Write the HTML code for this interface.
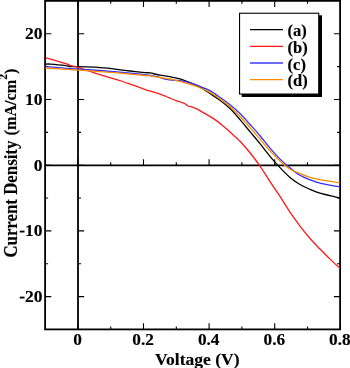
<!DOCTYPE html>
<html><head><meta charset="utf-8"><style>
html,body{margin:0;padding:0;background:#fff;overflow:hidden;}
svg{display:block;will-change:transform;}
text{font-family:"Liberation Serif",serif;font-weight:bold;fill:#000;stroke:#000;stroke-width:0.15px;}
</style></head><body>
<svg width="350" height="368" viewBox="0 0 350 368" xmlns="http://www.w3.org/2000/svg">
<rect x="0" y="0" width="350" height="368" fill="#fff"/>

<g stroke="#000" fill="none">
<path d="M77.90,329.4 V323.20 M77.90,0.85 V7.05 M77.90,165.35 V159.15 M110.70,329.4 V326.40 M110.70,0.85 V3.85 M110.70,165.35 V162.35 M143.50,329.4 V323.20 M143.50,0.85 V7.05 M143.50,165.35 V159.15 M176.30,329.4 V326.40 M176.30,0.85 V3.85 M176.30,165.35 V162.35 M209.10,329.4 V323.20 M209.10,0.85 V7.05 M209.10,165.35 V159.15 M241.90,329.4 V326.40 M241.90,0.85 V3.85 M241.90,165.35 V162.35 M274.70,329.4 V323.20 M274.70,0.85 V7.05 M274.70,165.35 V159.15 M307.50,329.4 V326.40 M307.50,0.85 V3.85 M307.50,165.35 V162.35 M340.30,329.4 V323.20 M340.30,0.85 V7.05 M340.30,165.35 V159.15 M45.1,296.60 H51.30 M340.1,296.60 H333.90 M78.0,296.60 H84.20 M45.1,263.75 H48.10 M340.1,263.75 H337.10 M78.0,263.75 H81.00 M45.1,230.90 H51.30 M340.1,230.90 H333.90 M78.0,230.90 H84.20 M45.1,198.05 H48.10 M340.1,198.05 H337.10 M78.0,198.05 H81.00 M45.1,165.20 H51.30 M340.1,165.20 H333.90 M78.0,165.20 H84.20 M45.1,132.35 H48.10 M340.1,132.35 H337.10 M78.0,132.35 H81.00 M45.1,99.50 H51.30 M340.1,99.50 H333.90 M78.0,99.50 H84.20 M45.1,66.65 H48.10 M340.1,66.65 H337.10 M78.0,66.65 H81.00 M45.1,33.80 H51.30 M340.1,33.80 H333.90 M78.0,33.80 H84.20" stroke-width="1.1"/>
<path d="M78.0,0.85 V329.4" stroke-width="1.8"/>
<path d="M45.1,165.35 H340.1" stroke-width="1.8"/>
<rect x="45.1" y="0.85" width="295.0" height="328.54999999999995" stroke-width="1.8"/>
</g>
<g fill="none" stroke-linejoin="round" stroke-linecap="butt">
<path d="M45.50,64.20 C46.25,64.17 47.25,63.90 50.00,64.05 C52.75,64.20 59.33,64.84 62.00,65.10 C64.67,65.36 64.67,65.37 66.00,65.60 C67.33,65.83 67.90,66.33 70.00,66.50 C72.10,66.67 74.45,66.48 78.60,66.60 C82.75,66.72 91.33,67.03 94.90,67.20 C98.47,67.38 97.48,67.46 100.00,67.65 C102.52,67.84 107.50,68.11 110.00,68.37 C112.50,68.62 111.67,68.76 115.00,69.20 C118.33,69.64 125.00,70.43 130.00,71.00 C135.00,71.56 141.67,72.26 145.00,72.59 C148.33,72.92 147.50,72.55 150.00,72.98 C152.50,73.40 156.67,74.52 160.00,75.14 C163.33,75.77 166.67,76.10 170.00,76.71 C173.33,77.32 176.67,77.82 180.00,78.82 C183.33,79.82 186.67,81.31 190.00,82.71 C193.33,84.10 196.67,85.38 200.00,87.19 C203.33,89.00 206.67,91.40 210.00,93.58 C213.33,95.77 216.67,97.82 220.00,100.32 C223.33,102.82 226.67,105.37 230.00,108.59 C233.33,111.81 236.67,115.78 240.00,119.62 C243.33,123.46 246.67,127.65 250.00,131.65 C253.33,135.65 256.67,139.54 260.00,143.65 C263.33,147.76 266.67,152.33 270.00,156.33 C273.33,160.33 276.67,164.13 280.00,167.65 C283.33,171.17 286.67,174.65 290.00,177.45 C293.33,180.25 296.67,182.47 300.00,184.45 C303.33,186.42 306.67,187.84 310.00,189.30 C313.33,190.76 315.83,191.95 320.00,193.22 C324.17,194.49 331.75,196.10 335.00,196.91 C338.25,197.73 338.75,197.90 339.50,198.10" stroke="#000" stroke-width="1.3"/>
<path d="M45.50,57.51 C48.92,58.53 61.92,62.32 66.00,63.63 C70.08,64.94 68.05,64.75 70.00,65.37 C71.95,65.99 75.20,66.66 77.70,67.36 C80.20,68.05 81.28,68.31 85.00,69.54 C88.72,70.76 94.17,72.86 100.00,74.70 C105.83,76.54 116.00,79.35 120.00,80.56 C124.00,81.78 120.00,80.59 124.00,82.00 C128.00,83.40 138.00,86.99 144.00,89.01 C150.00,91.03 156.67,93.01 160.00,94.12 C163.33,95.23 162.33,94.99 164.00,95.67 C165.67,96.34 168.00,97.34 170.00,98.16 C172.00,98.97 174.17,99.86 176.00,100.54 C177.83,101.22 179.57,101.74 181.00,102.24 C182.43,102.73 183.43,102.90 184.60,103.53 C185.77,104.16 186.93,105.52 188.00,106.02 C189.07,106.52 189.57,106.04 191.00,106.52 C192.43,107.00 195.10,108.22 196.60,108.91 C198.10,109.60 198.43,109.78 200.00,110.65 C201.57,111.52 203.57,112.70 206.00,114.15 C208.43,115.60 211.75,117.41 214.60,119.37 C217.45,121.32 220.53,123.78 223.10,125.88 C225.67,127.99 227.85,130.06 230.00,132.00 C232.15,133.94 234.33,135.98 236.00,137.52 C237.67,139.06 237.67,138.71 240.00,141.25 C242.33,143.79 246.67,148.61 250.00,152.75 C253.33,156.89 256.67,161.26 260.00,166.07 C263.33,170.87 266.67,176.52 270.00,181.58 C273.33,186.65 276.67,191.34 280.00,196.45 C283.33,201.56 286.67,207.27 290.00,212.22 C293.33,217.16 296.67,221.74 300.00,226.13 C303.33,230.52 306.67,234.73 310.00,238.55 C313.33,242.37 316.67,245.64 320.00,249.07 C323.33,252.50 326.73,255.99 330.00,259.13 C333.27,262.27 338.00,266.44 339.60,267.90" stroke="#ff1a1a" stroke-width="1.3"/>
<path d="M45.50,66.40 C49.58,66.76 60.92,67.85 70.00,68.54 C79.08,69.22 92.50,69.96 100.00,70.50 C107.50,71.04 110.00,71.33 115.00,71.77 C120.00,72.20 125.00,72.64 130.00,73.13 C135.00,73.62 141.33,74.27 145.00,74.70 C148.67,75.12 149.50,75.25 152.00,75.70 C154.50,76.15 157.83,76.82 160.00,77.40 C162.17,77.98 163.33,78.78 165.00,79.20 C166.67,79.62 168.17,79.70 170.00,79.90 C171.83,80.10 174.33,80.27 176.00,80.40 C177.67,80.53 177.67,80.28 180.00,80.70 C182.33,81.12 186.67,81.98 190.00,82.95 C193.33,83.92 196.67,85.21 200.00,86.49 C203.33,87.77 206.67,88.85 210.00,90.66 C213.33,92.46 216.67,94.96 220.00,97.32 C223.33,99.69 226.67,102.13 230.00,104.83 C233.33,107.53 236.67,110.28 240.00,113.55 C243.33,116.82 246.67,120.75 250.00,124.45 C253.33,128.15 256.67,131.79 260.00,135.75 C263.33,139.71 266.67,144.30 270.00,148.20 C273.33,152.10 276.67,155.87 280.00,159.15 C283.33,162.43 286.67,165.19 290.00,167.88 C293.33,170.57 296.67,173.30 300.00,175.28 C303.33,177.27 306.67,178.48 310.00,179.80 C313.33,181.12 315.83,182.14 320.00,183.18 C324.17,184.22 331.75,185.47 335.00,186.06 C338.25,186.64 338.75,186.59 339.50,186.70" stroke="#3030ff" stroke-width="1.3"/>
<path d="M45.50,68.00 C49.58,68.26 60.92,68.95 70.00,69.55 C79.08,70.14 92.50,71.02 100.00,71.55 C107.50,72.08 110.00,72.28 115.00,72.70 C120.00,73.12 125.00,73.63 130.00,74.10 C135.00,74.57 141.67,75.19 145.00,75.50 C148.33,75.81 147.50,75.58 150.00,75.94 C152.50,76.31 157.50,77.28 160.00,77.69 C162.50,78.10 163.33,78.19 165.00,78.39 C166.67,78.59 168.33,78.59 170.00,78.89 C171.67,79.19 173.33,79.78 175.00,80.19 C176.67,80.60 177.50,80.67 180.00,81.37 C182.50,82.07 186.67,83.30 190.00,84.37 C193.33,85.44 196.67,86.43 200.00,87.77 C203.33,89.11 206.67,90.53 210.00,92.38 C213.33,94.24 216.67,96.53 220.00,98.92 C223.33,101.30 226.67,103.77 230.00,106.69 C233.33,109.61 236.67,112.95 240.00,116.43 C243.33,119.92 246.67,123.82 250.00,127.59 C253.33,131.36 256.67,135.17 260.00,139.05 C263.33,142.93 266.67,147.23 270.00,150.90 C273.33,154.57 276.67,158.00 280.00,161.05 C283.33,164.10 286.67,167.11 290.00,169.18 C293.33,171.26 296.67,172.15 300.00,173.52 C303.33,174.89 306.67,176.38 310.00,177.40 C313.33,178.42 315.83,178.86 320.00,179.64 C324.17,180.41 331.75,181.56 335.00,182.06 C338.25,182.55 338.75,182.51 339.50,182.60" stroke="#ff8c00" stroke-width="1.3"/>
</g>
<!-- legend -->
<rect x="241.7" y="15.3" width="80.3" height="81.7" fill="#000"/>
<rect x="239.55" y="13.25" width="79.2" height="80.8" fill="#fff" stroke="#000" stroke-width="1.1"/>
<g stroke-width="1.4">
<line x1="250" x2="283" y1="29.6" y2="29.6" stroke="#000"/>
<line x1="250" x2="283" y1="46.35" y2="46.35" stroke="#ff1a1a"/>
<line x1="250" x2="283" y1="63.05" y2="63.05" stroke="#3c3cff"/>
<line x1="250" x2="283" y1="79.6" y2="79.6" stroke="#ff8c00"/>
</g>
<g style="font-size:16.5px">
<text x="287.6" y="35.9">(a)</text>
<text x="287.6" y="52.7">(b)</text>
<text x="287.6" y="69.5">(c)</text>
<text x="287.6" y="86.2">(d)</text>
</g>
<g style="font-size:16.5px"><text transform="translate(42.6,39.30) scale(1,1.0)" text-anchor="end" style="font-size:17.5px">20</text><text transform="translate(42.6,105.00) scale(1,1.0)" text-anchor="end" style="font-size:17.5px">10</text><text transform="translate(42.6,170.70) scale(1,1.0)" text-anchor="end" style="font-size:17.5px">0</text><text transform="translate(42.6,236.40) scale(1,1.0)" text-anchor="end" style="font-size:17.5px">-10</text><text transform="translate(42.6,302.10) scale(1,1.0)" text-anchor="end" style="font-size:17.5px">-20</text><text transform="translate(77.50,344.8) scale(1,1.01)" text-anchor="middle" style="font-size:17.3px">0</text><text transform="translate(143.10,344.8) scale(1,1.01)" text-anchor="middle" style="font-size:17.3px">0.2</text><text transform="translate(208.70,344.8) scale(1,1.01)" text-anchor="middle" style="font-size:17.3px">0.4</text><text transform="translate(274.30,344.8) scale(1,1.01)" text-anchor="middle" style="font-size:17.3px">0.6</text><text transform="translate(339.90,344.8) scale(1,1.01)" text-anchor="middle" style="font-size:17.3px">0.8</text></g>
<text x="197.3" y="364.6" text-anchor="middle" style="font-size:17.5px">Voltage (V)</text>
<text transform="translate(16.9,257.6) rotate(-90) scale(0.962,1.05)" style="font-size:17.5px">Current Density</text>
<text transform="translate(15.7,135.5) rotate(-90) scale(0.927,1)" style="font-size:17.5px">(mA/cm<tspan dy="-8.3" style="font-size:12.5px">2</tspan><tspan dy="8.3">)</tspan></text>
</svg>
</body></html>
